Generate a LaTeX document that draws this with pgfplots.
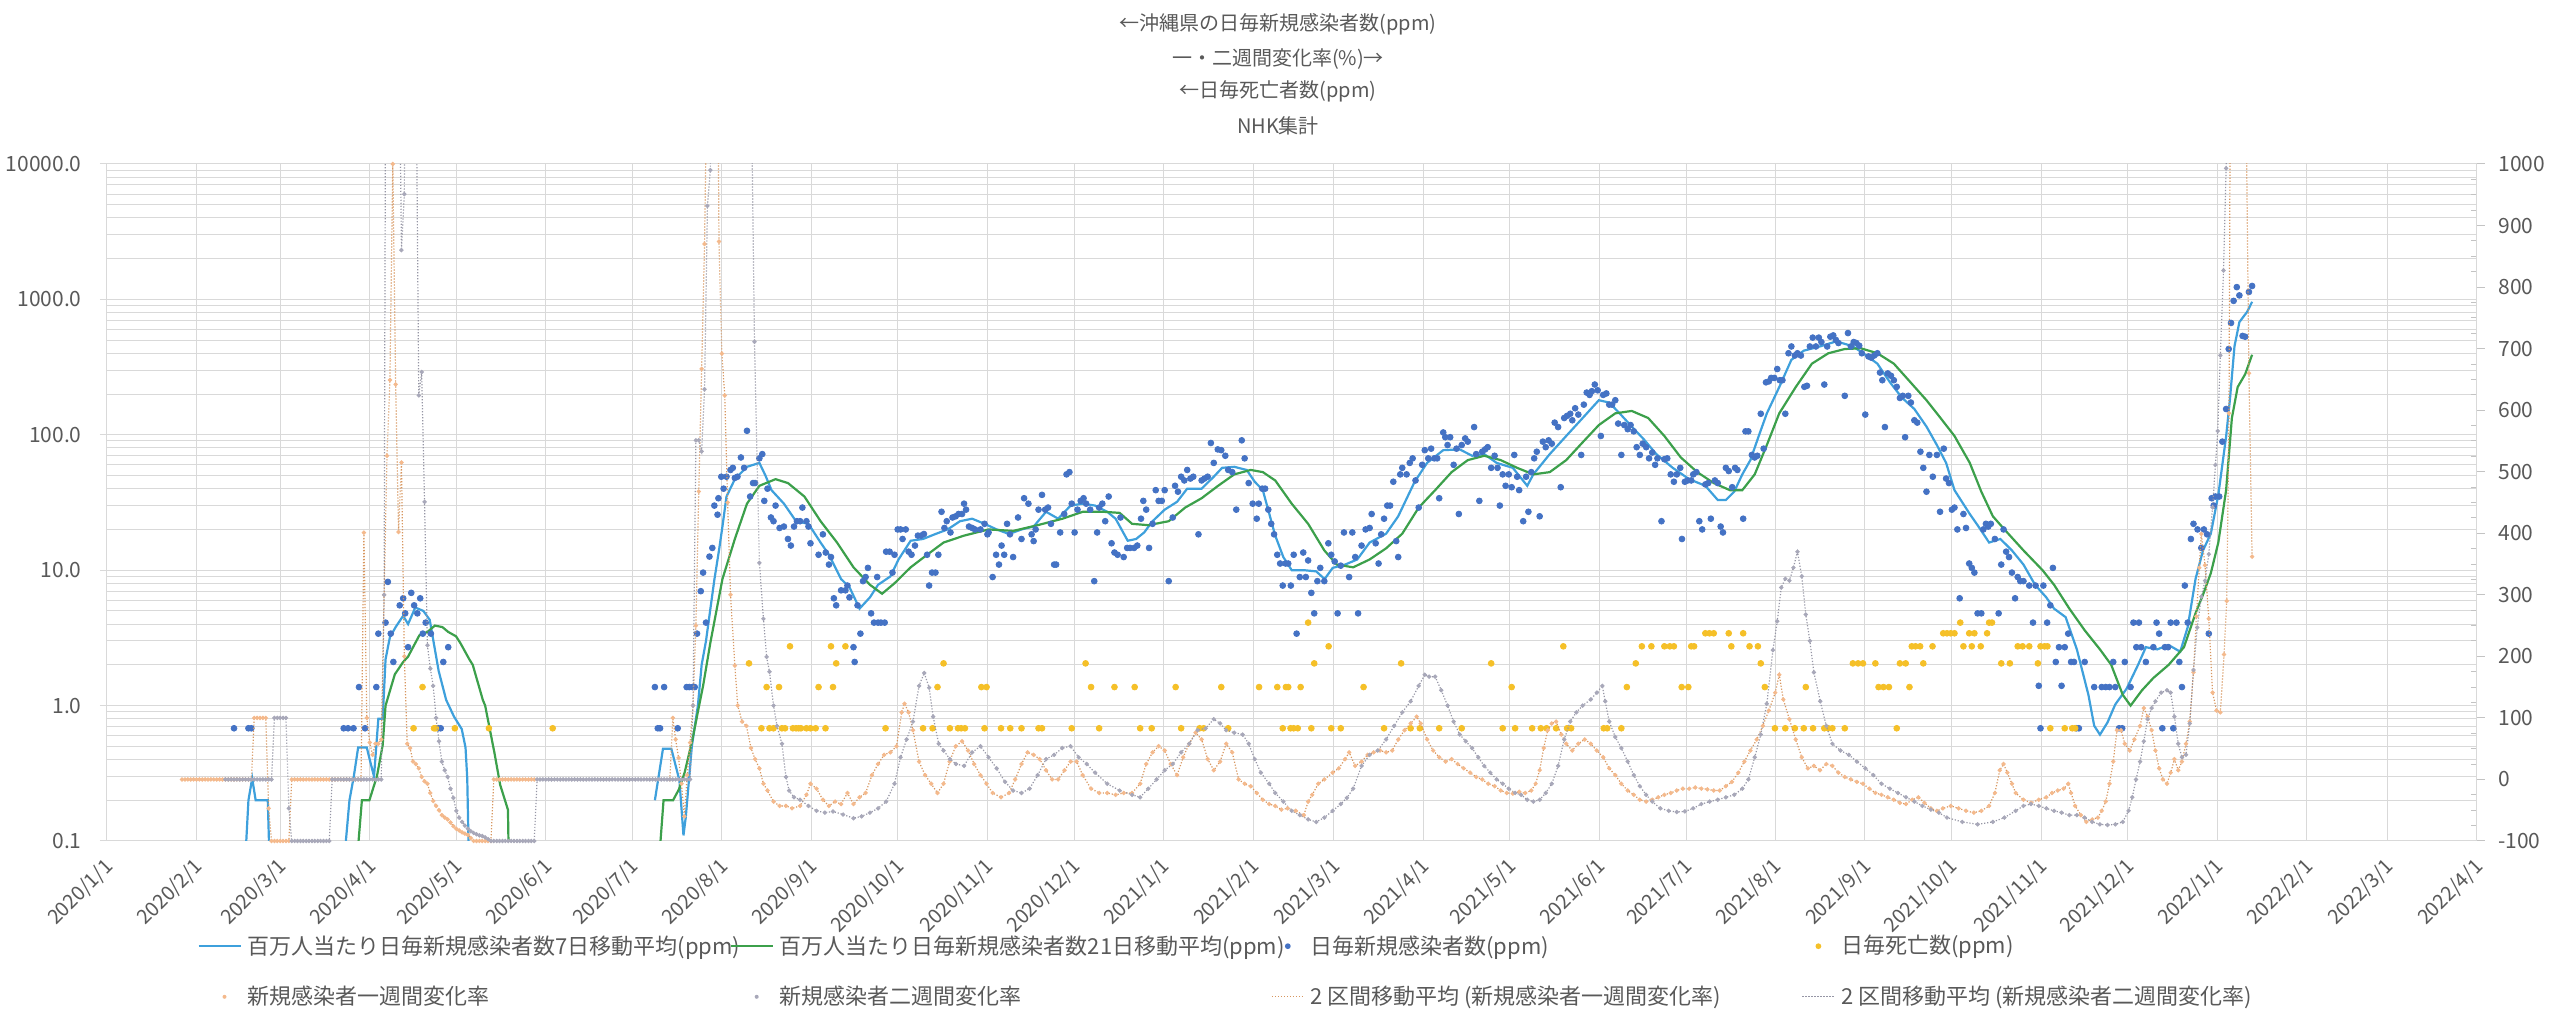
\documentclass[border=0pt]{standalone}
\usepackage{fontspec}
\setmainfont{Noto Sans CJK JP}
\usepackage{pgfplots}
\usepackage{pgfplotstable}
\pgfplotsset{compat=1.18}
\definecolor{c7}{RGB}{62,160,220}
\definecolor{c21}{RGB}{60,160,75}
\definecolor{ccase}{RGB}{68,114,196}
\definecolor{cdeath}{RGB}{245,192,40}
\definecolor{cw1}{RGB}{244,185,140}
\definecolor{cw2}{RGB}{168,168,185}
\definecolor{cma1}{RGB}{215,150,95}
\definecolor{cma2}{RGB}{150,150,165}
\definecolor{cgrid}{RGB}{217,217,217}
\definecolor{ctext}{RGB}{89,89,89}
% 1-week change rate (%)
\pgfplotstableread[row sep=\\]{x y\\
26 0\\27 0\\28 0\\29 0\\30 0\\31 0\\32 0\\33 0\\34 0\\35 0\\36 0\\37 0\\38 0\\39 0\\40 0\\41 0\\42 0\\43 0\\44 0\\45 0\\46 0\\47 0\\48 0\\49 0\\50 0\\
51 100\\52 100\\53 100\\54 100\\55 100\\56 -47\\57 -100\\58 -100\\59 -100\\60 -100\\61 -100\\62 -100\\63 -100\\
64 0\\65 0\\66 0\\67 0\\68 0\\69 0\\70 0\\71 0\\72 0\\73 0\\74 0\\75 0\\76 0\\77 0\\78 0\\79 0\\80 0\\81 0\\82 0\\83 0\\84 0\\85 0\\86 0\\87 0\\88 0\\
89 401\\90 100\\91 60\\92 40\\93 58\\94 58\\95 65\\96 300\\97 526\\98 649\\99 1000\\100 642\\101 402\\102 515\\103 200\\104 58\\105 51\\106 29\\107 25\\108 18\\109 4\\110 -3\\111 -7\\112 -22\\113 -35\\114 -43\\115 -50\\116 -58\\117 -62\\118 -65\\119 -70\\120 -76\\121 -80\\122 -83\\123 -86\\124 -88\\125 -90\\126 -95\\
127 -100\\128 -100\\129 -100\\130 -100\\131 -100\\132 -100\\133 -100\\
134 0\\135 0\\136 0\\137 0\\138 0\\139 0\\140 0\\141 0\\142 0\\143 0\\144 0\\145 0\\146 0\\147 0\\148 0\\
170 nan\\
195 0\\196 100\\197 65\\198 35\\199 -7\\200 -60\\201 7\\202 60\\203 120\\204 250\\205 468\\206 667\\207 870\\208 1200\\209 1500\\210 2000\\211 1600\\212 874\\213 692\\214 624\\215 450\\216 300\\217.5 185\\218.5 120\\220 94\\221.5 87\\
223.1 51\\224.5 33\\226 18\\227.4 -7\\228.8 -18\\230.9 -36\\233 -43\\235.2 -43\\237.3 -47\\240.1 -43\\242.3 -25\\243.7 -7\\245.8 -15\\248 -33\\250.1 -43\\252.2 -36\\254.3 -40\\256.5 -22\\258.6 -40\\260.7 -29\\262.8 -22\\265 7\\267.1 25\\269.2 40\\271.4 44\\273.5 54\\275.3 109\\276.3 123\\277.7 109\\279.2 80\\281.3 29\\283.4 7\\285.5 -7\\287.7 -22\\289.8 -7\\291.9 29\\294 54\\296.2 62\\298.3 47\\300.4 25\\302.6 7\\304.7 -7\\306.8 -22\\309.7 -29\\312.5 -22\\314.6 0\\316.8 25\\318.9 44\\321 40\\323.1 33\\325.3 15\\327.4 0\\329.5 0\\331.7 15\\333.8 29\\335.9 29\\338 7\\340.9 -15\\343.7 -22\\346.5 -22\\349.4 -25\\352.2 -22\\355.1 -22\\357.9 -7\\360 25\\362.2 44\\364.3 54\\366.4 47\\368.5 25\\370.7 7\\372.8 36\\374.9 58\\377.1 76\\379.2 65\\381.3 33\\383.4 15\\385.6 29\\387.7 58\\389.8 44\\392 0\\394.1 -7\\396.2 -11\\398.3 -22\\400.4 -33\\402.6 -40\\404.7 -43\\406.8 -49\\409 -47\\411.8 -51\\414.6 -58\\416.1 -36\\417.5 -25\\419.6 -7\\421.7 0\\424.6 11\\426.7 18\\
428.9 33\\430.3 44\\432.4 22\\434.6 29\\436.7 40\\438.8 44\\441 47\\443.1 44\\445.2 47\\447.3 65\\449.5 80\\451.6 91\\453.7 102\\455.1 91\\457.3 65\\459.4 47\\461.5 36\\463.7 29\\465.8 33\\467.9 25\\470 18\\472.2 11\\474.3 4\\476.4 0\\478.5 -7\\480.7 -11\\482.8 -18\\484.9 -22\\487 -23\\489.2 -20\\491.3 -22\\493.4 -18\\494.9 -7\\496.3 15\\497.7 51\\499.1 80\\500.5 91\\502 94\\503.8 73\\505.5 58\\507.6 47\\509.7 58\\511.9 65\\514 58\\516.1 47\\518.3 36\\520.4 18\\522.5 7\\524.6 -7\\526.8 -18\\528.9 -25\\531 -33\\533.2 -36\\535.3 -33\\537.4 -29\\539.5 -25\\541.7 -22\\543.8 -18\\545.9 -15\\548.1 -15\\550.2 -13\\552.3 -15\\554.4 -16\\556.6 -18\\558.7 -18\\560.8 -11\\562.9 -4\\565.1 11\\567.2 29\\569.3 47\\571.5 65\\573.6 87\\575.7 112\\577.9 141\\579.3 170\\580.7 130\\582.8 98\\585 65\\587.1 36\\589.2 18\\591.3 22\\593.4 15\\595.6 25\\597.7 22\\599.8 11\\602 4\\604.1 0\\606.2 -4\\608.3 -7\\610.5 -15\\612.6 -22\\614.7 -25\\616.9 -29\\619 -33\\621.1 -38\\623.2 -40\\625.4 -33\\627.5 -29\\629.6 -38\\631.8 -47\\633.9 -51\\636 -47\\
638.7 -43\\641.4 -47\\644 -51\\646.7 -54\\649.3 -51\\652 -43\\654 -22\\655.7 15\\657 25\\658.3 11\\659.9 -7\\661.2 -22\\663.9 -33\\666.5 -38\\669.2 -33\\671.8 -29\\673.8 -22\\675.8 -18\\677.8 -15\\679.4 -7\\680.4 -22\\681.8 -43\\683.8 -58\\685.7 -69\\687.7 -65\\689.7 -62\\691 -51\\692.4 -36\\693.7 -7\\695 29\\696.3 80\\697.7 80\\699 58\\700.7 47\\702.3 65\\704.3 87\\705.6 116\\706.9 102\\708.3 80\\709.6 47\\710.9 18\\712.2 0\\713.6 -7\\714.9 11\\716.2 33\\717.5 15\\718.8 29\\720.2 58\\721.5 94\\722.8 174\\723.8 265\\724.8 344\\725.5 399\\726.8 348\\728.1 261\\729.4 141\\730.8 112\\732.1 109\\733.4 203\\734.3 290\\735.1 595\\736.1 1800\\737 2500\\738 1200\\739 1500\\740 1400\\741 1100\\742 660\\743.1 362\\
}\wone
% 2-week change rate (%)
\pgfplotstableread[row sep=\\]{x y\\
41 0\\42 0\\43 0\\44 0\\45 0\\46 0\\47 0\\48 0\\49 0\\50 0\\51 0\\52 0\\53 0\\54 0\\55 0\\56 0\\57 0\\
58 100\\59 100\\60 100\\61 100\\62 100\\63 -47\\
64 -100\\65 -100\\66 -100\\67 -100\\68 -100\\69 -100\\70 -100\\71 -100\\72 -100\\73 -100\\74 -100\\75 -100\\76 -100\\77 -100\\
78 0\\79 0\\80 0\\81 0\\82 0\\83 0\\84 0\\85 0\\86 0\\87 0\\88 0\\89 0\\90 0\\91 0\\92 0\\93 0\\94 0\\95 0\\
96 300\\97 2000\\98 3000\\99 2500\\100 1500\\101 1300\\102 860\\103 951\\104 2200\\105 2000\\106 1600\\107 1200\\108 624\\109 662\\110 451\\111 218\\112 180\\113 152\\114 100\\115 62\\116 29\\117 15\\118 4\\119 -15\\120 -30\\121 -51\\122 -62\\123 -69\\124 -75\\125 -80\\126 -84\\127 -87\\128 -89\\129 -91\\130 -92\\131 -94\\132 -97\\
133 -100\\134 -100\\135 -100\\136 -100\\137 -100\\138 -100\\139 -100\\140 -100\\141 -100\\142 -100\\143 -100\\144 -100\\145 -100\\146 -100\\147 -100\\148 -100\\
149 0\\150 0\\151 0\\152 0\\153 0\\154 0\\155 0\\156 0\\157 0\\158 0\\159 0\\160 0\\161 0\\162 0\\163 0\\164 0\\165 0\\166 0\\167 0\\168 0\\169 0\\170 0\\171 0\\172 0\\173 0\\174 0\\175 0\\176 0\\177 0\\178 0\\179 0\\180 0\\181 0\\182 0\\183 0\\184 0\\185 0\\186 0\\187 0\\188 0\\189 0\\190 0\\191 0\\192 0\\193 0\\194 0\\195 0\\196 0\\197 0\\198 0\\199 0\\200 0\\201 0\\202 0\\
203 120\\204 551\\205 551\\206 533\\207 634\\208 932\\209 990\\210 1500\\212 2500\\214 3000\\216 3000\\218 2500\\220 2000\\222 1500\\223 1200\\224.3 711\\226 352\\227.4 261\\228.5 199\\229.5 175\\230.9 120\\232.1 87\\233.8 58\\235.2 4\\236.3 -18\\238 -29\\240.1 -33\\243 -43\\245.8 -51\\248.7 -54\\251.5 -52\\255 -57\\258.6 -63\\261.4 -60\\264.3 -54\\267.1 -47\\269.9 -36\\272.8 -7\\274.9 36\\277 65\\279.2 94\\281.3 152\\283.1 173\\284.8 149\\286.2 102\\288.1 58\\289.8 47\\292 33\\294.1 25\\296.9 22\\299.7 44\\302.6 54\\305.4 36\\308.2 18\\311.1 -4\\313.9 -18\\316.8 -22\\319.6 -15\\322.4 7\\325.3 33\\328.1 40\\330.9 51\\333.8 54\\336.6 36\\339.4 25\\342.3 11\\346.5 -7\\350.8 -18\\355.1 -25\\357.9 -29\\360.7 -15\\363.6 0\\366.4 15\\369.2 25\\372.1 44\\374.9 58\\377.8 80\\380.6 83\\383.4 98\\385.6 91\\387.7 80\\390.5 76\\393.4 73\\395.5 58\\397.6 33\\399.7 11\\402.6 -7\\404.7 -22\\407.5 -36\\410.4 -51\\413.2 -58\\416.1 -65\\418.9 -69\\421.7 -62\\424.6 -51\\427.4 -40\\
429.5 -30\\431.7 -15\\434.6 22\\437.4 40\\440.2 47\\443.1 65\\445.9 87\\448.7 109\\451.6 127\\454.4 152\\456.5 170\\458 167\\460.1 167\\462.2 145\\464.4 120\\466.5 94\\468.6 73\\470.7 62\\472.9 51\\475 36\\477.1 22\\479.2 11\\481.4 0\\483.5 -7\\485.6 -15\\487.8 -22\\489.9 -25\\492 -33\\494.1 -36\\496.3 -33\\498.4 -22\\500.5 -7\\502.7 22\\504.8 65\\506.9 94\\509 109\\511.2 120\\514 130\\516.1 141\\518 152\\519 127\\520.4 94\\522.5 69\\524.6 51\\526.8 29\\528.9 7\\531 -11\\533.2 -25\\535.3 -36\\538.1 -47\\541 -51\\543.8 -53\\546.6 -52\\549.5 -47\\552.3 -40\\555.2 -36\\558 -33\\560.8 -29\\563.7 -25\\566.5 -15\\568.6 0\\570.8 36\\572.9 73\\575 123\\577.1 210\\578.6 257\\580 312\\581.4 326\\582.8 323\\584.2 344\\585.6 370\\587.1 330\\588.5 268\\589.9 225\\591.3 174\\593.5 127\\595.6 87\\597.7 58\\600.5 47\\603.4 40\\606.2 29\\609.1 18\\611.9 7\\614.7 -7\\617.6 -15\\620.4 -22\\623.2 -29\\626.1 -36\\628.9 -43\\631.8 -49\\634.6 -54\\637.4 -62\\
642.7 -69\\648 -73\\653.3 -69\\657.3 -62\\661.2 -51\\663.9 -43\\666.5 -40\\669.2 -43\\671.8 -47\\674.5 -51\\677.1 -54\\679.8 -58\\682.4 -58\\685.1 -62\\687.7 -69\\690.4 -73\\693 -74\\695.7 -73\\698.3 -69\\700.3 -51\\701.6 -29\\702.9 0\\704.3 29\\705.6 62\\706.9 98\\708.3 116\\709.6 127\\711.6 141\\713.6 145\\714.9 141\\716.2 102\\717.5 58\\718.8 36\\720.2 40\\721.5 91\\722.8 178\\724.1 247\\725.5 297\\726.8 323\\728.1 366\\729.4 442\\730.4 511\\731.2 566\\732.1 689\\733.2 827\\734.1 993\\735 1500\\736 2000\\737 2500\\738 3000\\739 3000\\740 3500\\741 3500\\742 4000\\743 4000\\
}\wtwo
\begin{document}
\begin{tikzpicture}
\path[use as bounding box] (0,0) rectangle (1280pt,510pt);
\begin{scope}[every node/.style={text=ctext, font=\fontsize{10}{12}\selectfont}]
\node at (639pt,497.75pt) {←沖縄県の日毎新規感染者数(ppm)};
\node at (639pt,480.5pt) {一・二週間変化率(\%)→};
\node at (639pt,464.5pt) {←日毎死亡者数(ppm)};
\node at (639pt,447pt) {NHK集計};
\end{scope}
\begin{axis}[
 at={(53.5pt,89.5pt)}, anchor=south west, scale only axis, width=1185pt, height=338.5pt,
 xmin=0, xmax=821, ymin=0.1, ymax=10000, ymode=log,
 unbounded coords=jump,
 axis line style={draw=cgrid, line width=0.5pt},
 xmajorgrids, ymajorgrids, yminorgrids,
 major grid style={draw=cgrid, line width=0.5pt},
 minor grid style={draw=cgrid, line width=0.5pt},
 xtick={0,31,60,91,121,152,182,213,244,274,305,335,366,397,425,456,486,517,547,578,609,639,670,700,731,762,790,821},
 xticklabels={2020/1/1,2020/2/1,2020/3/1,2020/4/1,2020/5/1,2020/6/1,2020/7/1,2020/8/1,2020/9/1,2020/10/1,2020/11/1,2020/12/1,2021/1/1,2021/2/1,2021/3/1,2021/4/1,2021/5/1,2021/6/1,2021/7/1,2021/8/1,2021/9/1,2021/10/1,2021/11/1,2021/12/1,2022/1/1,2022/2/1,2022/3/1,2022/4/1},
 xtick pos=bottom, xtick style={draw=none},
 ytick={0.1,1,10,100,1000,10000}, yticklabels={0.1,1.0,10.0,100.0,1000.0,10000.0},
 ytick pos=left, ytick style={draw=cgrid, line width=0.5pt},
 tick align=outside, major tick length=3.5pt, minor tick length=0pt,
 yticklabel style={font=\fontsize{10.5}{12}\selectfont, text=ctext, inner sep=0pt, xshift=-9pt},
 xticklabel style={font=\fontsize{10}{12}\selectfont, text=ctext, xshift=-2pt, yshift=-4pt, rotate=45, anchor=north east, inner sep=0pt},
]
% 7-day moving average
\addplot[c7, line width=1.1pt] table[row sep=\\]{x y\\
47.5 0.05\\49 0.2\\50.3 0.29\\51.5 0.2\\55.7 0.2\\56.5 0.05\\70 nan\\
81.5 0.05\\84 0.2\\85.5 0.3\\87 0.49\\90 0.49\\91 0.4\\92.5 0.3\\94 0.8\\95.5 0.8\\96.5 2.2\\98 3.2\\100 3.8\\102.6 4.6\\104.3 4.0\\106.8 5.3\\109.6 5.0\\111.8 4.3\\113.2 2.9\\114.9 1.8\\117.5 1.1\\120.2 0.83\\122.9 0.67\\124.2 0.49\\124.8 0.29\\125.5 0.05\\150 nan\\
189.8 0.2\\192.6 0.48\\195.5 0.48\\198.3 0.28\\199.7 0.11\\200.5 0.15\\202.6 0.5\\204.7 1.0\\206 2.0\\207.5 3.0\\210.4 8.5\\212 14\\213.2 21\\214.6 35\\217.5 47\\221.7 58\\226 62\\228.1 50\\230.2 39\\234.5 31\\238.7 23\\243 22\\247.2 16\\250.1 13\\254.3 8.6\\257.2 7.5\\260.7 5.2\\264.3 6.3\\267.1 7.8\\271.4 9\\274.2 12\\278.4 16.5\\282.7 17\\287 18.5\\291.2 20\\295.5 23\\299.7 24\\304 22\\308.2 20\\312.5 18.5\\316.8 20\\321 21\\325.3 27\\329.5 24\\333.8 30\\338 31\\342.3 30\\346.5 27\\349.4 24\\353.6 16.5\\356.5 17\\359.3 19\\362.2 23\\366.4 28\\370.7 32\\374.2 40\\379.2 40\\383.4 49\\386.3 57\\390.5 58\\394.8 55\\397.6 45\\400.4 39\\404.7 18\\407.5 12.5\\410.4 10\\414.6 10\\418.9 9.8\\421.8 8.6\\424.6 10.4\\428.9 11\\433.1 12\\437.4 16\\443.1 18.6\\447.3 25\\453 45\\457.3 62\\462.9 77\\468.6 78\\472.9 70\\477.1 72\\481.4 62\\487 57\\492 42\\494.1 51\\499.8 72\\505.5 98\\511.2 133\\516.8 180\\520.4 173\\524 144\\528.2 115\\532.5 92\\536.7 72\\542.4 57\\548.1 47\\553.7 42\\558 33\\560.8 33\\563.7 38\\566.5 51\\569.3 65\\572.2 98\\575 144\\579.3 225\\583.5 358\\587.8 418\\593.5 450\\599.1 490\\604.8 450\\609.1 390\\613.3 335\\617.6 245\\621.8 188\\626.1 155\\630.3 115\\633.9 84\\637.1 62\\640 39\\645.3 26\\648 21.5\\652 16\\655.9 17\\659.9 14\\663.9 11\\667.9 7.8\\671.8 6.3\\674.5 5.2\\678.5 4.5\\682.4 2.6\\686.4 1.2\\688.4 0.71\\690.4 0.61\\693 0.75\\695.7 1.02\\699.6 1.33\\703.6 2.0\\706.3 2.7\\710.2 2.6\\714.2 2.8\\718.2 2.5\\720.8 3.8\\723.5 8.6\\726.1 14\\728.8 18.6\\731.4 36\\734.1 97\\735.4 180\\737 450\\738.7 680\\741.4 810\\743.1 960\\
};
% 21-day moving average
\addplot[c21, line width=1.1pt] table[row sep=\\]{x y\\
86 0.05\\88.3 0.2\\90.9 0.2\\93.5 0.3\\95.5 0.51\\96.5 1.0\\99.7 1.7\\102.6 2.1\\104.3 2.3\\106.8 2.9\\108.2 3.3\\111 3.5\\113.6 3.9\\116.2 3.8\\118.2 3.5\\120.9 3.25\\122.4 2.9\\125.5 2.2\\126.7 2.0\\130.2 1.1\\131 1.0\\134.2 0.45\\136.2 0.26\\138.9 0.17\\139.3 0.05\\160 nan\\
190.7 0.05\\192.8 0.2\\196.1 0.2\\198.1 0.24\\200.1 0.32\\202.8 0.56\\204.7 0.9\\206.5 1.4\\209 2.9\\213.2 8.6\\217.5 17\\221.7 31\\226 42\\231.6 47\\235.9 44\\241.6 35\\247.2 23\\252.9 16\\258.6 10.5\\264.3 7.8\\268.5 6.7\\272.8 8\\278.4 10.5\\284.1 13\\289.8 16\\296.9 18\\305.4 20\\313.9 19.5\\322.4 21.5\\331 24\\338 27\\345.1 27\\350.8 26.5\\355.1 22\\360.7 21.5\\367.8 23\\373.5 29\\379.2 34\\384.9 42\\390.5 51\\396.2 55\\400.4 53\\404.7 46\\410.4 31\\416.1 22\\421.7 14\\426 11\\431.7 10.5\\437.4 12\\443.1 14.5\\448.7 18.6\\454.4 29\\460.1 39\\465.8 53\\471.4 65\\477.1 70\\482.8 65\\488.5 57\\494.1 51\\499.8 53\\505.5 65\\511.2 88\\516.8 118\\522.5 144\\528.2 150\\533.9 133\\539.5 98\\545.2 68\\550.9 53\\556.6 44\\562.2 39\\566.5 39\\570.8 51\\575 84\\579.3 144\\585 225\\590.6 335\\596.3 400\\602 430\\607.6 435\\613.3 400\\619 335\\624.7 245\\630.3 180\\634.7 137\\640 98\\645.3 62\\649.3 38\\653.3 25\\657.3 20\\663.9 14\\670.5 10\\674.5 7.8\\679.8 5.2\\685.1 3.6\\690.4 2.6\\694.3 2.0\\698.3 1.2\\701 1.0\\705 1.3\\708.9 1.6\\714.2 2.0\\719.5 2.7\\723.5 4.8\\726.1 6.6\\728.8 9.5\\731.4 16\\734.1 39\\736.1 133\\738.1 225\\740.7 280\\743.1 390\\
};
% daily new cases (ppm)
\addplot[only marks, mark=*, mark size=1.45pt, color=ccase, mark options={draw=none, fill=ccase}] table[row sep=\\]{x y\\
44 0.68\\49 0.68\\50 0.68\\82 0.68\\83.5 0.68\\85.4 0.68\\87.3 1.37\\89.4 0.68\\93.3 1.37\\94 3.4\\96.5 4.1\\97.3 8.2\\98.3 3.4\\99.2 2.1\\101.4 5.5\\102.6 6.2\\103.3 4.8\\104.3 2.7\\105.4 6.8\\106.4 5.5\\107.5 4.8\\108.5 6.2\\109.4 3.4\\110.4 4.1\\112.2 3.4\\114.7 0.68\\115.6 0.68\\116.5 2.1\\118.2 2.7\\
189.8 1.37\\190.8 0.68\\191.6 0.68\\193 1.37\\197.7 0.68\\200.8 1.37\\201.7 1.37\\202.8 1.37\\203.6 1.37\\204.4 3.4\\205.7 7.0\\206.5 9.6\\207.5 4.1\\208.7 12.6\\209.7 14.6\\210.4 30\\211.5 25.7\\211.8 34\\212.8 49\\213.6 40\\214.6 49\\216 55\\216.8 57\\217.5 48\\218.4 49\\219.6 68\\220.7 57\\221.7 107\\222.8 35\\223.8 44\\224.5 44\\226 67\\227 72\\227.7 32.5\\228.8 40\\230 24.5\\230.9 23\\231.6 30\\233 20.5\\234.5 21\\235.9 17\\236.9 15.2\\238 21\\239 23\\240.1 23\\240.9 29\\242.3 23\\243 21\\243.7 15.8\\246.5 13\\248 18.4\\249 13.5\\250.1 11\\250.8 12.5\\251.8 6.2\\252.6 5.5\\254.3 7.1\\255.8 7.1\\256.5 7.7\\257.2 6.3\\258.6 2.7\\259 2.1\\260 5.5\\261 3.4\\261.9 8.3\\262.8 8.9\\263.6 10.4\\264.7 4.8\\265.7 4.1\\266.8 8.9\\267.1 4.1\\268.1 4.1\\269.4 4.1\\269.9 13.7\\271.1 13.7\\272.1 9.6\\272.8 13\\273.9 20\\274.9 20\\275.6 17\\276.7 20\\277.7 13.7\\278.7 13\\279.9 15.2\\280.9 18\\282 18\\283 18.5\\284.1 13\\284.8 7.7\\285.8 9.6\\287 9.6\\288 13\\289.1 27\\290.1 20.5\\290.9 23\\292.2 19\\292.9 24.5\\294 25\\295 26\\296.2 26\\296.9 31\\297.6 28\\298.6 21\\299.7 20.5\\300.7 20\\302.6 20\\304 22\\305 18.4\\305.4 19\\306.8 8.9\\308 13\\309 11\\309.9 15.2\\310.8 13\\311.8 22\\312.8 18.4\\313.9 12.5\\315.6 24.5\\316.8 17\\317.7 34\\319.2 31\\320.3 18.4\\321 16.4\\321.7 20\\322.7 28\\323.9 36\\325 28\\326 29\\327 22\\328.1 11\\328.8 11\\330.2 19\\331.6 26\\332.4 51\\333.4 53\\334.2 31\\335.2 19\\336.2 28\\337.3 32.5\\338.3 34\\339.2 31\\340.6 28\\342 8.3\\343 19\\343.7 29\\344.8 31\\345.8 23\\347 35\\348 15.8\\349 13.5\\350.1 13\\351.1 24.5\\352.2 12.5\\353.4 14.6\\354.4 14.6\\355.8 14.6\\356.9 15.2\\358.2 24\\359 32.5\\360 28\\361 14.6\\362.2 22\\363.3 39\\364.3 32.5\\365.4 32.5\\366.4 39\\367.8 8.3\\369.2 24.5\\370 42\\371 38\\372.1 49\\373.2 46\\374.2 55\\375.3 47.5\\376.3 49\\378.1 18.4\\379.2 46\\380.2 47.5\\381.3 49\\382.4 87\\383.4 62\\384.8 78\\386 77\\387.4 70\\388.4 55\\389.8 53\\391.2 28\\393.1 91\\394.1 67\\395.5 44\\396.9 31\\398.3 24\\399 31\\400.2 40\\401.2 40\\402.3 28\\403.3 22\\404.3 18.4\\405.4 13\\406.4 11.2\\407.3 7.7\\408.3 11.2\\409.2 11.2\\410.1 7.7\\411.1 13\\412.1 3.4\\413.2 8.9\\414.4 13.5\\415.3 8.9\\416.1 11.8\\417.2 6.8\\418.2 4.8\\419.3 8.3\\420.3 10.4\\421.7 8.3\\423.1 15.8\\424.1 13\\425.3 11.6\\426.3 4.8\\427.4 10.8\\428.5 19\\
430.3 8.9\\431.4 19\\432.4 12.5\\433.4 4.8\\434.6 15.2\\436 20\\437.4 20.5\\438.1 26\\439.5 15.8\\440.5 11.2\\441.4 18.4\\442.4 24\\443.5 30\\444.5 30\\445.6 45\\446.6 16.4\\447.3 12.5\\448 51\\448.7 57\\450.2 51\\451.3 62\\452.3 67\\453.3 46\\454.4 29\\455.6 60\\456.5 77\\457.7 67\\458.7 79\\459.8 67\\460.8 67\\461.5 34\\462.9 104\\463.6 96\\464.4 84\\465.3 96\\466.5 60\\467.5 79\\468.3 26\\469.3 84\\470.5 94\\471.4 89\\473.6 114\\474.3 72\\475.4 32.5\\476.4 75\\477.4 78\\478.3 81\\479.5 57\\480.7 70\\481.7 57\\482.5 30\\483.5 51\\484.5 42\\485.6 51\\486.6 41\\487.5 71\\488.5 49\\489.2 39\\490.6 23\\491.6 49\\492.4 27\\493.4 53\\494.4 67\\495.3 75\\496.3 25\\497.4 89\\498.4 81\\499.4 91\\500.5 86\\501.5 123\\502.7 114\\503.6 41\\504.8 133\\505.8 138\\506.9 143\\507.6 128\\508.6 157\\509.7 141\\510.7 71\\511.6 167\\512.6 205\\513.6 197\\514.4 210\\515.4 235\\516.4 213\\517.5 98\\518.3 197\\519.4 202\\520.4 167\\521.4 167\\522.5 180\\523.5 121\\524.6 71\\525.6 118\\526.8 110\\527.8 118\\528.9 106\\529.9 81\\531 71\\532 86\\533.2 81\\534.2 67\\535.3 74\\536.3 60\\537.1 67\\538.5 23\\539.5 66\\540.5 67\\541.7 51\\542.8 45\\543.8 51\\545 57\\545.6 17\\546.6 45\\547.6 46\\548.8 46\\549.5 51\\550.6 53\\551.6 23\\552.6 20\\553.7 43\\554.7 44\\555.6 24\\557 46\\558 44\\559 21\\559.8 19\\560.8 57\\561.8 54\\563 41\\564 57\\564.8 55\\566.8 24\\567.6 106\\568.6 106\\569.8 71\\570.8 68\\571.7 70\\572.9 143\\573.9 79\\574.7 244\\575.7 248\\576.5 263\\577.6 263\\578.6 306\\579.5 253\\580.4 253\\581.4 143\\582.5 400\\583.5 449\\584.7 385\\585.6 400\\586.8 385\\588 226\\588.9 230\\589.9 449\\590.9 522\\592 449\\593 522\\593.9 484\\594.9 235\\595.9 449\\597 530\\598 542\\598.9 502\\599.8 476\\602 194\\603.1 564\\604.1 449\\605.1 484\\606 476\\607 455\\607.9 400\\609.1 141\\610.2 379\\611.2 371\\612.2 385\\613.3 400\\614.2 288\\615 253\\615.9 114\\616.9 284\\618 273\\619 253\\620 226\\621.1 187\\622.1 194\\622.9 96\\624 194\\624.9 173\\626.1 128\\627.1 123\\628.2 75\\629.2 57\\630.3 38\\631.3 71\\632.5 49\\633.9 71\\635 27\\636.3 79\\
637.1 47.5\\638.1 44\\639.1 28\\640 29\\641 20\\641.8 6.2\\643.1 26\\644 20.5\\645.1 11.2\\646 10.4\\646.9 9.6\\648 4.8\\649.3 4.8\\650 20\\650.9 22\\651.7 21\\652.6 22\\654 17\\655.3 4.8\\656.2 11\\657 20\\657.9 13.7\\658.9 12.5\\659.9 9.6\\661 6.2\\661.9 8.9\\662.8 8.3\\663.9 8.3\\665.9 7.7\\667.2 4.1\\668.1 7.7\\669.2 1.4\\669.8 0.68\\670.8 7.7\\672.1 4.1\\673.2 5.5\\674.1 10.4\\675.1 2.1\\676.2 2.7\\677.1 1.4\\678.2 2.7\\679.4 3.4\\680.4 2.1\\681.4 2.1\\682.2 0.68\\683.1 0.68\\685.1 2.1\\688.4 1.37\\691 1.37\\692.4 1.37\\693.7 1.37\\695 2.1\\695.7 1.37\\697 0.68\\698.1 0.68\\699 2.1\\701 1.37\\702 4.1\\703 2.7\\703.9 4.1\\704.7 2.7\\706.3 2.1\\708.9 2.7\\710 4.1\\710.9 3.4\\712 0.68\\712.9 2.7\\714 2.7\\714.9 4.1\\715.8 0.68\\716.9 4.1\\717.9 2.1\\718.8 1.37\\719.8 7.7\\720.8 4.1\\721.9 17\\722.8 22\\724.2 20\\725.5 14.6\\726.4 20\\727.5 18.4\\728.1 3.4\\729.1 34\\729.8 30\\730.4 35\\731.7 35\\732.8 89\\734.1 155\\735 430\\735.8 670\\736.7 975\\737.8 1232\\738.7 1070\\739.8 537\\740.7 530\\742 1135\\743.1 1256\\
};
% daily deaths (ppm)
\addplot[only marks, mark=*, mark size=1.45pt, color=cdeath, mark options={draw=none, fill=cdeath}] table[row sep=\\]{x y\\
106.2 0.68\\109.3 1.37\\113.3 0.68\\113.9 0.68\\120.5 0.68\\132.3 0.68\\154.4 0.68\\222.4 2.05\\226.7 0.68\\228.5 1.37\\229.5 0.68\\230.9 0.68\\232.8 1.37\\233.8 0.68\\234.9 0.68\\236.6 2.74\\237.6 0.68\\238.7 0.68\\239.6 0.68\\240.4 0.68\\242.3 0.68\\243.7 0.68\\245.5 0.68\\246.5 1.37\\248.9 0.68\\250.8 2.74\\251.5 1.37\\252.6 2.05\\255.8 2.74\\269.7 0.68\\282.7 0.68\\286 0.68\\287.7 1.37\\289.8 2.05\\292 0.68\\294.8 0.68\\295.9 0.68\\297.2 0.68\\302.9 1.37\\304 0.68\\304.7 1.37\\309.7 0.68\\312.9 0.68\\316.8 0.68\\322.7 0.68\\323.9 0.68\\334.2 0.68\\339 2.05\\340.9 1.37\\343.7 0.68\\349 1.37\\356 1.37\\357.9 0.68\\361.9 0.68\\370.2 1.37\\372.1 0.68\\378.5 0.68\\379.9 0.68\\386 1.37\\388.4 0.68\\399.1 1.37\\405.4 1.37\\407.3 0.68\\408.4 1.37\\409.2 1.37\\410 0.68\\411.1 0.68\\412.5 0.68\\413.5 1.37\\416.1 4.1\\417.2 0.68\\418.2 2.05\\423.2 2.74\\424.1 0.68\\427.4 0.68\\435.3 1.37\\442.4 0.68\\448.3 2.05\\451.6 0.68\\454.8 0.68\\461.5 0.68\\469.3 0.68\\479.5 2.05\\483.5 0.68\\486.6 1.37\\487.8 0.68\\493.7 0.68\\496.7 0.68\\498.7 0.68\\502 0.68\\504.5 2.74\\505.8 0.68\\507.2 0.68\\518.5 0.68\\519.7 0.68\\524.6 0.68\\526.5 1.37\\529.6 2.05\\531.7 2.74\\535 2.74\\539.5 2.74\\541.4 2.74\\542.8 2.74\\545.5 1.37\\547.8 1.37\\548.8 2.74\\549.8 2.74\\553.7 3.42\\555.1 3.42\\556.6 3.42\\561.8 3.42\\562.7 2.74\\566.8 3.42\\569 2.74\\571.9 2.74\\572.9 2.05\\574.3 1.37\\577.8 0.68\\581.4 0.68\\584.7 0.68\\587.8 0.68\\588.5 1.37\\591 0.68\\594.9 0.68\\596.3 0.68\\597.7 0.68\\602 0.68\\604.8 2.05\\606.6 2.05\\608.3 2.05\\612.6 2.05\\613.7 1.37\\615.4 1.37\\617.3 1.37\\620 0.68\\621.1 2.05\\623.1 2.05\\624.4 1.37\\625.2 2.74\\626.5 2.74\\628.1 2.74\\629.2 2.05\\632.4 2.74\\636.1 3.42\\637.4 3.42\\638.7 3.42\\640 3.42\\642 4.1\\643.1 2.74\\645.1 3.42\\646 2.74\\646.9 3.42\\649.1 2.74\\651.3 3.42\\652 4.1\\653 4.1\\656.2 2.05\\659.2 2.05\\661.9 2.74\\663.6 2.74\\665.9 2.74\\668.9 2.05\\669.8 2.74\\671.2 2.74\\672.2 2.74\\673.2 0.68\\678.2 0.68\\680.8 0.68\\681.8 0.68\\
};
\end{axis}
\begin{axis}[
 at={(53.5pt,89.5pt)}, anchor=south west, scale only axis, width=1185pt, height=338.5pt,
 xmin=0, xmax=821, ymin=-100, ymax=1000,
 unbounded coords=jump,
 axis x line=none, axis y line*=right,
 y axis line style={draw=cgrid, line width=0.5pt},
 ytick={-100,0,100,200,300,400,500,600,700,800,900,1000},
 yticklabels={-100,0,100,200,300,400,500,600,700,800,900,1000},
 minor y tick num=3,
 tick align=inside, major tick length=-4pt, minor tick length=3pt,
 ytick style={draw=cgrid!75!gray, line width=0.5pt},
 minor y tick style={draw=cgrid!75!gray, line width=0.5pt},
 yticklabel style={font=\fontsize{10.5}{12}\selectfont, text=ctext, anchor=west, inner sep=0pt, xshift=10.5pt},
 legend columns=4,
 legend cell align=left,
 legend style={at={(0,0)}, anchor=north west, xshift=45pt, yshift=-46pt, draw=none, fill=none, inner sep=0pt,
   font=\fontsize{11}{13}\selectfont, text=ctext, row sep=12.5pt, nodes={inner sep=1pt},
   /tikz/every odd column/.style={column sep=2pt}},
]
\addlegendimage{legend image code/.code={\draw[c7, line width=1.1pt] (0pt,0pt) -- (21pt,0pt);}}
\addlegendentry{\makebox[240pt][l]{百万人当たり日毎新規感染者数7日移動平均(ppm)}}
\addlegendimage{legend image code/.code={\draw[c21, line width=1.1pt] (0pt,0pt) -- (21pt,0pt);}}
\addlegendentry{\makebox[240pt][l]{百万人当たり日毎新規感染者数21日移動平均(ppm)}}
\addlegendimage{legend image code/.code={\path[draw=none] (0pt,0pt) -- (21pt,0pt); \path[draw=none, fill=ccase] (13pt,0pt) circle (1.45pt);}}
\addlegendentry{\makebox[240pt][l]{日毎新規感染者数(ppm)}}
\addlegendimage{legend image code/.code={\path[draw=none] (0pt,0pt) -- (21pt,0pt); \path[draw=none, fill=cdeath] (13pt,0pt) circle (1.45pt);}}
\addlegendentry{\makebox[240pt][l]{日毎死亡数(ppm)}}
\addplot[only marks, mark=*, mark size=0.9pt, color=cw1, mark options={draw=none, fill=cw1},
  legend image code/.code={\path[draw=none] (0pt,0pt) -- (21pt,0pt); \path[draw=none, fill=cw1] (13pt,0pt) circle (1pt);}] table {\wone};
\addlegendentry{\makebox[240pt][l]{新規感染者一週間変化率}}
\addplot[only marks, mark=*, mark size=0.9pt, color=cw2, mark options={draw=none, fill=cw2},
  legend image code/.code={\path[draw=none] (0pt,0pt) -- (21pt,0pt); \path[draw=none, fill=cw2] (13pt,0pt) circle (1pt);}] table {\wtwo};
\addlegendentry{\makebox[240pt][l]{新規感染者二週間変化率}}
\addplot[cma1, line width=0.6pt, dash pattern=on 0.6pt off 0.9pt,
  legend image code/.code={\path[draw=none] (0pt,0pt) -- (21pt,0pt); \draw[cma1, line width=0.6pt, dash pattern=on 0.6pt off 0.9pt] (5pt,0pt) -- (21pt,0pt);}] table {\wone};
\addlegendentry{\makebox[240pt][l]{2 区間移動平均 (新規感染者一週間変化率)}}
\addplot[cma2, line width=0.6pt, dash pattern=on 0.6pt off 0.9pt,
  legend image code/.code={\path[draw=none] (0pt,0pt) -- (21pt,0pt); \draw[cma2, line width=0.6pt, dash pattern=on 0.6pt off 0.9pt] (5pt,0pt) -- (21pt,0pt);}] table {\wtwo};
\addlegendentry{\makebox[240pt][l]{2 区間移動平均 (新規感染者二週間変化率)}}
\end{axis}
\end{tikzpicture}
\end{document}
